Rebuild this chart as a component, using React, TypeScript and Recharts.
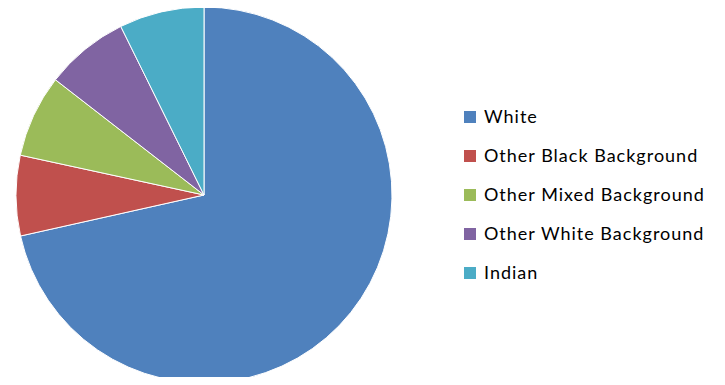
import { PieChart, Pie, Cell, Legend } from 'recharts'

const groups = ['White', 'Other Black Background', 'Other Mixed Background', 'Other White Background', 'Indian']
const shares = [71.5, 6.9, 7.1, 7.2, 7.3]
const colors = ['#4F81BD', '#C0504D', '#9BBB59', '#8064A2', '#4BACC6']

const data = groups.map((name, i) => ({ name, value: shares[i] }))

function LegendBox(props: any) {
  // keep the original series order, not the sorted one
  const items = [...(props.payload || [])].sort(
    (a: any, b: any) => groups.indexOf(a.value) - groups.indexOf(b.value)
  )
  return (
    <svg width={260} height={200}>
      {items.map((p: any, i: number) => (
        <g key={i} transform={`translate(0, ${i * 39})`}>
          <rect x={0} y={5} width={12} height={12} fill={colors[groups.indexOf(p.value)]} />
          <text x={20} y={17} fontFamily="Lato, sans-serif" fontSize={18} letterSpacing={1} fill="#000">
            {p.value}
          </text>
        </g>
      ))}
    </svg>
  )
}

export default function App() {
  return (
    <div style={{ margin: -8, background: '#fff', width: 725, height: 385 }}>
      <PieChart width={725} height={385} margin={{ top: 0, right: 0, bottom: 0, left: 0 }}>
        <Pie
          data={data}
          dataKey="value"
          nameKey="name"
          cx={204}
          cy={195}
          outerRadius={188}
          startAngle={90}
          endAngle={-270}
          stroke="#fff"
          strokeWidth={1}
          isAnimationActive={false}
        >
          {data.map((d, i) => (
            <Cell key={d.name} fill={colors[i]} />
          ))}
        </Pie>
        <Legend
          layout="vertical"
          content={LegendBox}
          wrapperStyle={{ left: 464, top: 106, width: 260 }}
        />
      </PieChart>
    </div>
  )
}
